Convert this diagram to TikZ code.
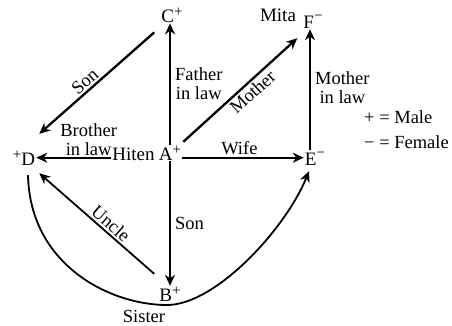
\documentclass[tikz,border=0pt]{standalone}
\usepackage{fontspec}
\setmainfont{Liberation Serif}
\usetikzlibrary{arrows.meta,positioning}
\newcommand\msign{\raisebox{5.5pt}{\fontsize{15}{15}\selectfont +}}
\newcommand\fsign{\raisebox{8pt}{\fontsize{15}{15}\selectfont −}}
\tikzset{
  arrow/.style={-{Stealth[length=11pt,width=10pt]},line width=2.3pt},
  thinarrow/.style={-{Stealth[length=11pt,width=10pt]},line width=1.8pt},
  person/.style={inner sep=1pt,anchor=base,font=\fontsize{19}{21}\selectfont},
  rel/.style={inner sep=2pt,font=\fontsize{18.5}{19}\selectfont,align=center},
  legend/.style={inner sep=0pt,anchor=base west,font=\fontsize{18.5}{21}\selectfont}
}
\begin{document}
\begin{tikzpicture}[x=1pt,y=1pt]
  \useasboundingbox (0,0) rectangle (452,325);
  \node[person] (C) at (172,303) {C\msign};
  \node[person] (A) at (170,165) {A\msign};
  \node[person] (B) at (170,24) {B\msign};
  \node[person] (D) at (24,160) {\msign D};
  \node[person] (E) at (315,160) {E\fsign};
  \node[person] (F) at (313,297) {F\fsign};
  \node[person] (mita) at (278,304) {Mita};
  \node[person,base left=2pt of A] (hiten) {Hiten};
  \node[rel,anchor=base] (sister) at (144,3) {Sister};
  \node[legend] (male) at (364,202) {+ = Male};
  \node[legend] (female) at (364,177) {− = Female};
  \draw[arrow] (A.north) -- (A.north |- C.south)
    node[rel,right=2pt,pos=.5] {Father\\in law};
  \draw[arrow] (A.south) -- (A.south |- B.north)
    node[rel,right=2pt,pos=.5] {Son};
  \draw[arrow] (A.mid east) -- (A.mid east -| E.west)
    node[rel,above,pos=.47] {Wife};
  \draw[arrow] (hiten.mid west) -- (hiten.mid west -| D.east)
    node[rel,above,pos=.3,inner sep=1pt] {Brother\\in law};
  \draw[arrow] ([xshift=-5pt]E.north) -- ([xshift=-3pt]F.south)
    node[rel,right=2pt,pos=.52] {Mother\\in law};
  \draw[arrow] ([shift={(-6,-9)}]C.south west) -- ([shift={(3,16)}]D.north east)
    node[rel,sloped,above,pos=.55] {Son};
  \draw[arrow] ([shift={(1,3)}]A.north east) -- ([shift={(-5,-9)}]F.south west)
    node[rel,sloped,below,pos=.55] {Mother};
  \draw[thinarrow] ([shift={(-4,12)}]B.north west) -- ([shift={(3,-7)}]D.south east)
    node[rel,sloped,above,pos=.43] {Uncle};
  \draw[thinarrow] ([shift={(4,-9)}]D.south) .. controls (30,60) and (110,20) .. (167,20)
    .. controls (215,20) and (285,95) .. ([shift={(-6,-5)}]E.south);
\end{tikzpicture}
\end{document}
